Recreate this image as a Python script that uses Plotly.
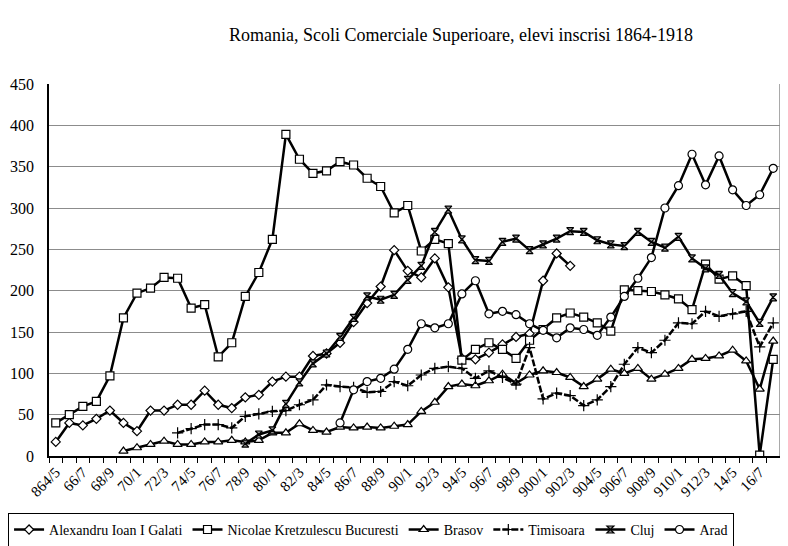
import plotly.graph_objects as go

years = list(range(1864, 1918))
categories = [f"{y}/{(y + 1) % 10}" for y in years]

tick_labels = ["864/5", "66/7", "68/9", "70/1", "72/3", "74/5", "76/7", "78/9",
               "80/1", "82/3", "84/5", "86/7", "88/9", "90/1", "92/3", "94/5",
               "96/7", "98/9", "900/1", "902/3", "904/5", "906/7", "908/9",
               "910/1", "912/3", "14/5", "16/7"]

N = None
galati = [17, 40, 37, 45, 55, 40, 30, 55, 55, 62, 62, 79, 62, 58, 71, 74, 90, 96, 96,
          121, 124, 137, 162, 185, 205, 249, 224, 216, 239, 204, 118, 117, 125, 135,
          144, 148, 212, 245, 230] + [N] * 15
bucuresti = [40, 50, 60, 66, 97, 167, 197, 203, 216, 215, 179, 183, 120, 137, 193, 222,
             262, 389, 359, 342, 345, 356, 352, 336, 326, 294, 303, 248, 262, 257, 116,
             129, 137, 129, 118, 140, 153, 167, 173, 168, 161, 151, 201, 200, 199, 195,
             190, 177, 232, 214, 218, 206, 1, 117]
brasov = [N] * 5 + [6, 10, 14, 18, 14, 14, 17, 17, 19, 17, 19, 28, 28, 39, 31, 29, 35, 34,
                    35, 34, 36, 38, 54, 65, 84, 87, 85, 91, 99, 88, 98, 103, 101, 95, 84,
                    93, 105, 100, 106, 93, 99, 106, 117, 118, 121, 128, 115, 81, 139]
timisoara = [N] * 9 + [28, 33, 38, 38, 34, 48, 51, 54, 55, 62, 68, 86, 84, 83, 77, 78, 90,
                       85, 98, 106, 108, 106, 94, 103, 95, 87, 131, 69, 76, 73, 61, 68, 84,
                       111, 131, 125, 140, 161, 160, 175, 169, 172, 175, 132, 161]
cluj = [N] * 14 + [15, 26, 31, 63, 89, 112, 124, 144, 167, 193, 189, 195, 213, 230, 271,
                   298, 262, 237, 236, 259, 263, 249, 256, 263, 272, 271, 261, 256, 254,
                   271, 259, 252, 265, 239, 227, 219, 197, 187, 161, 192]
arad = [N] * 21 + [40, 80, 90, 94, 105, 129, 160, 155, 160, 196, 212, 172, 175, 171, 160,
                   152, 143, 155, 153, 146, 168, 193, 215, 240, 300, 327, 365, 328, 363,
                   322, 303, 316, 348]

series_names = ["Alexandru Ioan I Galati", "Nicolae Kretzulescu Bucuresti", "Brasov",
                "Timisoara", "Cluj", "Arad"]
series_values = [galati, bucuresti, brasov, timisoara, cluj, arad]

styles = [
    dict(symbol="diamond", size=7, color="white", dash="solid"),
    dict(symbol="square", size=8, color="white", dash="solid"),
    dict(symbol="triangle-up", size=8, color="white", dash="solid"),
    dict(symbol="cross-thin", size=8, color="black", dash="7px,2px"),
    dict(symbol="hourglass", size=7, color="#909090", dash="solid"),
    dict(symbol="circle", size=8, color="white", dash="solid"),
]

SERIF = "Liberation Serif, Times New Roman, serif"

fig = go.Figure()
for name, vals, st in zip(series_names, series_values, styles):
    fig.add_trace(go.Scatter(
        x=categories, y=vals, name=name, mode="lines+markers",
        line=dict(color="black", width=2.5, dash=st["dash"]),
        marker=dict(symbol=st["symbol"], size=st["size"], color=st["color"],
                    line=dict(color="black", width=1.2)),
        connectgaps=False,
    ))

ticktext = []
for i, c in enumerate(categories):
    ticktext.append(tick_labels[i // 2] if i % 2 == 0 else "")

# page body has an 8px margin, so the figure is 8px smaller and shifted
fig.update_layout(
    width=780, height=538,
    margin=dict(l=41, r=8, t=76, b=90, autoexpand=False),
    paper_bgcolor="white", plot_bgcolor="white",
    font=dict(family=SERIF, color="black", size=15),
    showlegend=True,
    legend=dict(orientation="h", x=-0.056, xanchor="left", y=-0.153, yanchor="top",
                bordercolor="black", borderwidth=1, bgcolor="white",
                font=dict(family=SERIF, size=14, color="black"),
                itemwidth=30, tracegroupgap=0),
    xaxis=dict(type="category", tickmode="array", tickvals=categories, ticktext=ticktext,
               tickson="boundaries", ticks="outside", ticklen=5, tickcolor="black",
               tickwidth=1, showline=True, linecolor="black", linewidth=1.5,
               showgrid=False, tickangle=-45, range=[-0.5, len(categories) - 0.5],
               automargin=False,
               tickfont=dict(family=SERIF, size=15, color="black"), zeroline=False),
    yaxis=dict(range=[0, 450], dtick=50, tick0=0, showgrid=True, gridcolor="#8c8c8c",
               gridwidth=1, showline=True, linecolor="black", linewidth=1.5,
               ticks="", ticklabelstandoff=10, zeroline=False, automargin=False,
               tickfont=dict(family=SERIF, size=16, color="black")),
    annotations=[dict(text="Romania, Scoli Comerciale Superioare, elevi inscrisi 1864-1918",
                      xref="paper", yref="paper", x=0.5636, y=1.1317, xanchor="center",
                      yanchor="middle", showarrow=False,
                      font=dict(family=SERIF, size=18, color="black"))],
    shapes=[dict(type="line", xref="paper", yref="paper", x0=1, x1=1, y0=0, y1=1,
                 line=dict(color="#8c8c8c", width=1.5))],
)

fig.write_html("out.html")
